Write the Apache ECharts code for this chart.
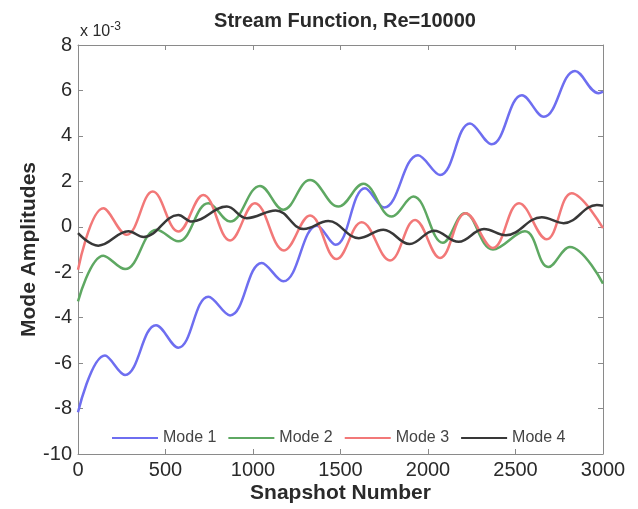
<!DOCTYPE html>
<html>
<head>
<meta charset="utf-8">
<script src="https://cdn.jsdelivr.net/npm/echarts@6/dist/echarts.min.js"></script>
<style>html,body{margin:0;padding:0;background:#fff;}#c{width:638px;height:509px;}</style>
</head>
<body>
<div id="c"></div>
<script>
// Snapshot positions (turning points) and amplitudes (x 1e-3)
var mode1X = [0,154,269,446,573,745,869,1050,1173,1365,1472,1640,1750,1943,2069,2240,2364,2537,2662,2840,2975,3000];
var mode1Y = [-8.16,-5.66,-6.52,-4.33,-5.32,-3.08,-3.90,-1.59,-2.40,0.05,-0.79,1.70,0.85,3.15,2.28,4.55,3.63,5.79,4.84,6.86,5.88,5.95];
var mode2X = [0,145,269,449,573,745,869,1040,1173,1326,1488,1630,1792,1916,2085,2211,2371,2554,2687,2811,3000];
var mode2Y = [-3.28,-1.27,-1.86,-0.13,-0.64,1.04,0.23,1.80,0.75,2.06,0.89,1.89,0.45,1.33,-0.70,0.60,-1.00,-0.20,-1.77,-0.89,-2.50];
var mode3X = [0,145,278,427,573,716,869,1011,1177,1326,1478,1621,1783,1926,2069,2215,2371,2520,2678,2821,3000];
var mode3Y = [-1.89,0.82,-0.35,1.55,-0.21,1.40,-0.60,1.04,-1.04,0.50,-1.42,0.20,-1.48,0.30,-1.37,0.60,-0.93,1.04,-0.55,1.48,-0.06];
var mode4X = [0,116,288,375,573,650,850,964,1130,1290,1430,1605,1745,1895,2035,2175,2320,2445,2650,2775,2965,3000];
var mode4Y = [-0.28,-0.83,-0.20,-0.45,0.52,0.23,0.89,0.38,0.72,-0.10,0.25,-0.50,-0.13,-0.76,-0.17,-0.66,-0.10,-0.37,0.42,0.16,0.96,0.93];
var seriesNames = ['Mode 1','Mode 2','Mode 3','Mode 4'];
var seriesColors = ['#6e6ef0','#5ea862','#f27878','#383838'];
var xTicks = [0,500,1000,1500,2000,2500,3000];
var yTicks = [-10,-8,-6,-4,-2,0,2,4,6,8];

function pairs(xs, ys){ return xs.map(function(x,i){ return [x, ys[i]]; }); }
var allX = [mode1X, mode2X, mode3X, mode4X];
var allY = [mode1Y, mode2Y, mode3Y, mode4Y];

var chart = echarts.init(document.getElementById('c'), null, {renderer:'canvas'});
var FONT = 'Liberation Sans, Arial, sans-serif';
var frame = {show:true, onZero:false, lineStyle:{color:'#8a8a8a', width:1}};
var tick = {show:true, inside:true, length:5, lineStyle:{color:'#8a8a8a'}};
function plain(v){ return String(v); }
chart.setOption({
  animation:false,
  backgroundColor:'#fff',
  title:{text:'Stream Function, Re=10000', left:340, textAlign:'center', top:6,
    textStyle:{fontFamily:FONT, fontSize:20, fontWeight:'bold', color:'#2a2a2a'}},
  grid:{left:78, right:35, top:45, bottom:54},
  legend:{data:seriesNames, left:107, top:425, itemWidth:46, itemHeight:12, itemGap:12, icon:'path://M0,5L46,5L46,7L0,7Z',
    textStyle:{fontFamily:FONT, fontSize:16, color:'#444'}},
  xAxis:[
    {type:'value', min:xTicks[0], max:xTicks[xTicks.length-1], interval:500, position:'bottom',
     axisLine:frame, axisTick:tick, splitLine:{show:false},
     axisLabel:{fontFamily:FONT, fontSize:20, color:'#2a2a2a', margin:6, formatter:plain},
     name:'Snapshot Number', nameLocation:'middle', nameGap:29, nameMoveOverlap:false,
     nameTextStyle:{fontFamily:FONT, fontSize:21, fontWeight:'bold', color:'#2a2a2a'}},
    {type:'value', min:xTicks[0], max:xTicks[xTicks.length-1], interval:500, position:'top',
     axisLine:frame, axisTick:tick, splitLine:{show:false}, axisLabel:{show:false}}
  ],
  yAxis:[
    {type:'value', min:yTicks[0], max:yTicks[yTicks.length-1], interval:2, position:'left',
     axisLine:frame, axisTick:tick, splitLine:{show:false},
     axisLabel:{fontFamily:FONT, fontSize:20, color:'#2a2a2a', margin:6, formatter:plain},
     name:'Mode Amplitudes', nameLocation:'middle', nameGap:38, nameMoveOverlap:false,
     nameTextStyle:{fontFamily:FONT, fontSize:21, fontWeight:'bold', color:'#2a2a2a'}},
    {type:'value', min:yTicks[0], max:yTicks[yTicks.length-1], interval:2, position:'right',
     axisLine:frame, axisTick:tick, splitLine:{show:false}, axisLabel:{show:false}}
  ],
  graphic:[{type:'text', left:80, top:21, style:{
    text:'x 10{s|-3}', rich:{s:{fontSize:12, verticalAlign:'top', padding:[0,0,10,0], fontFamily:FONT, fill:'#2a2a2a'}},
    font:'16px Liberation Sans, Arial, sans-serif', fill:'#2a2a2a'}}],
  series: seriesNames.map(function(n,i){
    return {name:n, type:'line', data:pairs(allX[i], allY[i]), smooth:0.4, symbol:'none',
      lineStyle:{color:seriesColors[i], width:2.5}, itemStyle:{color:seriesColors[i]}};
  })
});
</script>
</body>
</html>
